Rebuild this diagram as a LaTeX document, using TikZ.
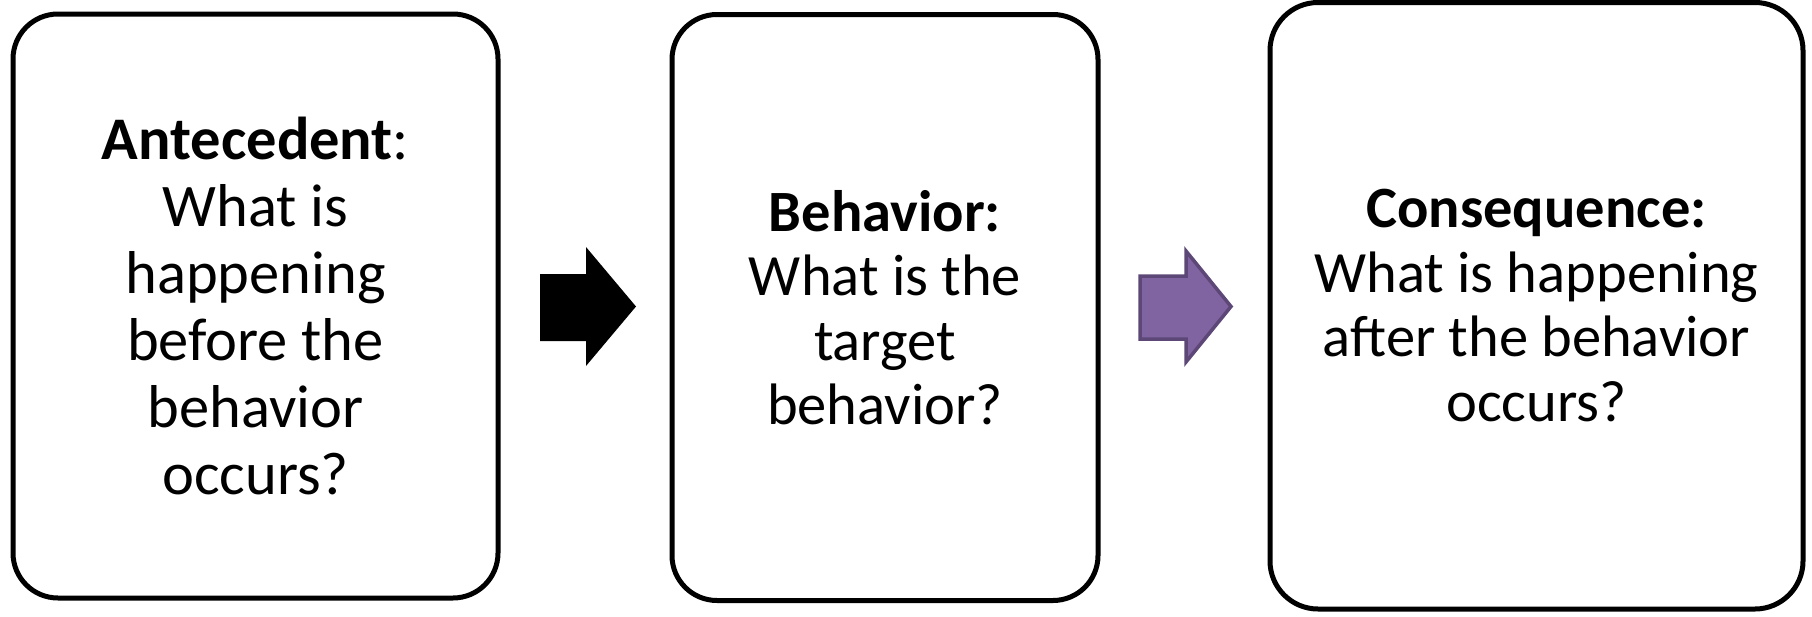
\documentclass[tikz,border=0pt]{standalone}
\usepackage{fontspec}
\setmainfont{Carlito}
\definecolor{arrowpurple}{HTML}{8064A2}
\definecolor{arrowpurpleline}{HTML}{5C4776}
\begin{document}
\begin{tikzpicture}[x=1pt,y=-1pt,
  card/.style={draw=black, line width=5pt, rounded corners=45pt, fill=white,
    inner sep=0pt, align=center, font=\fontsize{58.5}{64.5}\selectfont},
  blockarrow/.style={line join=miter}]
\useasboundingbox (0,0) rectangle (1812,616);

% the three question cards
\node[card, minimum width=485pt, minimum height=584pt,
  font=\fontsize{60.5}{67}\selectfont] (ante) at (255.5,306)
  {\textbf{Antecedent}:\\What is\\happening\\before the\\behavior\\occurs?};
\node[card, minimum width=426pt, minimum height=586pt] (beh) at (885,307.5)
  {\textbf{Behavior:}\\What is the\\target\\behavior?};
\node[card, minimum width=533pt, minimum height=606.5pt, rounded corners=48pt] (cons) at (1536.5,305.75)
  {\textbf{Consequence:}\\What is happening\\after the behavior\\occurs?};

% block arrow between antecedent and behavior
\fill[black, blockarrow]
  (540,274) -- (586,274) -- (586,247) -- (636,306.5) -- (586,366)
  -- (586,341) -- (540,341) -- cycle;

% block arrow between behavior and consequence
\draw[blockarrow, fill=arrowpurple, draw=arrowpurpleline, line width=3.5pt]
  (1140,276) -- (1186,276) -- (1186,251) -- (1231,306.5) -- (1186,362)
  -- (1186,339) -- (1140,339) -- cycle;
\end{tikzpicture}
\end{document}
